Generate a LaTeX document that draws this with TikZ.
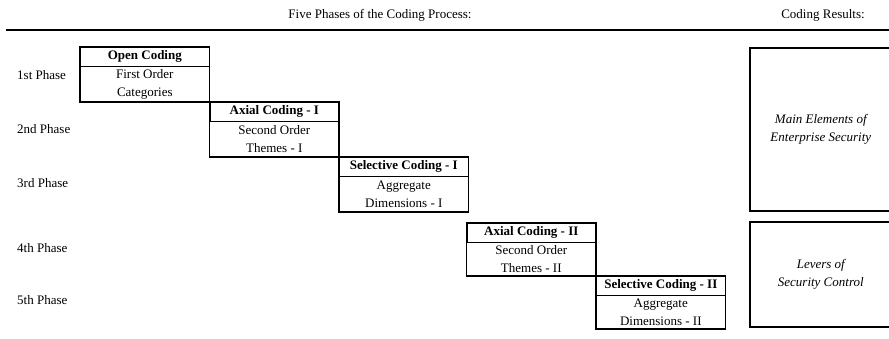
\documentclass[tikz,border=0pt]{standalone}
\usepackage{fontspec}
\setmainfont{Liberation Serif}
\usetikzlibrary{positioning}
\newcommand{\phasefont}{\fontsize{13pt}{18pt}\selectfont}
\tikzset{
        heading/.style={font=\phasefont},
        toprule/.style={line width=2pt},
        codehead/.style={draw, line width=0.6pt, minimum width=129pt, minimum height=19pt, inner sep=0pt, anchor=north west, font=\phasefont\bfseries},
        codebody/.style={minimum width=129pt, minimum height=35pt, inner sep=0pt, align=center, font=\phasefont},
        codeframe/.style={draw, line width=1.6pt},
        phaselabel/.style={anchor=west, inner sep=0pt, font=\phasefont},
        resultbox/.style={draw, line width=1.6pt, minimum width=142pt, inner sep=0pt, anchor=north west, align=center, font=\phasefont\itshape},
    }

\begin{document}
\begin{tikzpicture}[x=1pt, y=-1pt]
        \useasboundingbox (0,0) rectangle (889,339);

        % Kopfzeile
        \node[heading] (phases) at (380,15) {Five Phases of the Coding Process:};
        \node[heading] (results) at (823,15) {Coding Results:};
        \coordinate (rule-start) at (6,30);
        \coordinate (rule-end) at (895,30);
        \draw[toprule] (rule-start) -- (rule-end);

        % Phasen (Treppe)
        \node[codehead] (open-head) at (80,47) {Open Coding};
        \node[codebody, below=0pt of open-head] (open-body) {First Order\\Categories};
        \node[codehead] (axial-head) at (open-body.south east) {Axial Coding - I};
        \node[codebody, below=0pt of axial-head] (axial-body) {Second Order\\Themes - I};
        \node[codehead] (sel-head) at (axial-body.south east) {Selective Coding - I};
        \node[codebody, below=0pt of sel-head] (sel-body) {Aggregate\\Dimensions - I};
        \node[codehead] (axialii-head) at ([xshift=-2pt, yshift=-11pt]sel-body.south east) {Axial Coding - II};
        \node[codebody, minimum height=33pt, below=0pt of axialii-head] (axialii-body) {Second Order\\Themes - II};
        \node[codehead] (selii-head) at (axialii-body.south east) {Selective Coding - II};
        \node[codebody, minimum height=33pt, below=0pt of selii-head] (selii-body) {Aggregate\\Dimensions - II};

        % Rahmen
        \foreach \n in {open, axial, sel, axialii, selii}
            \draw[codeframe] (\n-head.north west) rectangle (\n-body.south east);

        % Linke Spalte
        \node[phaselabel] (phase1) at (17,75) {1st Phase};
        \node[phaselabel] (phase2) at (17,129) {2nd Phase};
        \node[phaselabel] (phase3) at (17,183) {3rd Phase};
        \node[phaselabel] (phase4) at (17,248) {4th Phase};
        \node[phaselabel] (phase5) at (17,300) {5th Phase};

        % Ergebnisse
        \node[resultbox, minimum height=163pt] (elements) at (749,47) {Main Elements of\\Enterprise Security};
        \node[resultbox, minimum height=105pt] (levers) at (749,221) {Levers of\\Security Control};

    \end{tikzpicture}
\end{document}
